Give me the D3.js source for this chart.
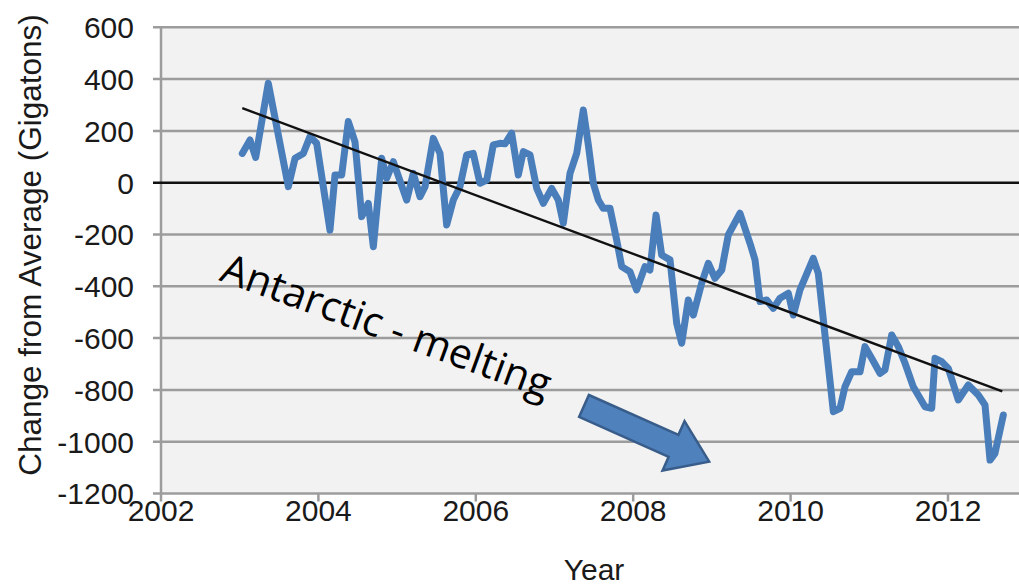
<!DOCTYPE html>
<html><head><meta charset="utf-8">
<script src="https://cdn.jsdelivr.net/npm/d3@7"></script>
<style>body{margin:0;background:#fff;overflow:hidden}</style>
</head><body><svg id="c" width="1019" height="587"></svg>
<script>
// Data (decimal years, change in gigatons)
const years = [2003.033,2003.131,2003.203,2003.363,2003.618,2003.703,2003.808,2003.893,2003.978,2004.147,
 2004.211,2004.296,2004.380,2004.465,2004.550,2004.634,2004.698,2004.804,2004.868,2004.952,
 2005.122,2005.206,2005.291,2005.355,2005.460,2005.545,2005.630,2005.714,2005.799,2005.884,
 2005.968,2006.053,2006.139,2006.222,2006.307,2006.371,2006.456,2006.540,2006.604,2006.689,
 2006.774,2006.858,2006.964,2007.048,2007.112,2007.197,2007.282,2007.366,2007.430,2007.493,
 2007.557,2007.620,2007.705,2007.790,2007.854,2007.959,2008.044,2008.150,2008.213,2008.290,
 2008.362,2008.468,2008.553,2008.616,2008.700,2008.764,2008.870,2008.954,2009.039,2009.125,
 2009.208,2009.357,2009.484,2009.548,2009.611,2009.696,2009.780,2009.865,2009.971,2010.034,
 2010.119,2010.288,2010.352,2010.543,2010.628,2010.691,2010.776,2010.882,2010.945,2011.030,
 2011.136,2011.199,2011.285,2011.369,2011.454,2011.559,2011.708,2011.793,2011.835,2011.920,
 2012.004,2012.131,2012.258,2012.385,2012.470,2012.534,2012.597,2012.703];
const values = [113,165,98,384,-15,94,113,178,152,-183,
 30,30,236,158,-131,-80,-247,94,17,81,
 -67,36,-54,-15,171,113,-163,-67,-15,107,
 113,-2,10,146,152,150,191,30,120,107,
 -22,-80,-22,-67,-157,36,113,281,146,-2,
 -67,-99,-99,-221,-324,-344,-414,-324,-337,-125,
 -279,-298,-543,-620,-453,-511,-388,-311,-369,-337,
 -202,-118,-234,-298,-459,-453,-485,-446,-427,-511,
 -414,-292,-350,-884,-871,-788,-730,-730,-633,-678,
 -736,-723,-588,-633,-697,-788,-865,-871,-678,-691,
 -717,-839,-781,-820,-858,-1071,-1045,-897];
const trendYears = [2003.033, 2012.69];
const trendValues = [288, -806];
const yTicks = [600,400,200,0,-200,-400,-600,-800,-1000,-1200];
const xTicks = [2002,2004,2006,2008,2010,2012];
const yTitle = "Change from Average (Gigatons)";
const xTitle = "Year";
const noteText = "Antarctic - melting";
const noteAt = [2002.728, -376];
const arrowAt = [2007.375, -862];

const svg = d3.select("#c");
const x = d3.scaleLinear().domain([2002, 2013]).range([161, 161 + 11 * 78.7]);
const y = d3.scaleLinear().domain([-1200, 600]).range([493.5, 27.3]);
const W = 1019;
const gridColor = "#9c9c9c";

// plot background
svg.append("rect").attr("x", x(2002)).attr("y", y(600))
  .attr("width", W - x(2002)).attr("height", y(-1200) - y(600)).attr("fill", "#f2f2f2");

// grid lines (extend left as ticks)
svg.append("g").selectAll("line").data(yTicks.filter(d => d !== 0)).join("line")
  .attr("x1", x(2002) - 8).attr("x2", W)
  .attr("y1", d => y(d)).attr("y2", d => y(d))
  .attr("stroke", gridColor).attr("stroke-width", 2.5);

// x ticks
svg.append("g").selectAll("line").data(xTicks).join("line")
  .attr("x1", d => x(d)).attr("x2", d => x(d))
  .attr("y1", y(-1200)).attr("y2", y(-1200) + 8)
  .attr("stroke", gridColor).attr("stroke-width", 2.5);

// left axis line
svg.append("line").attr("x1", x(2002)).attr("x2", x(2002))
  .attr("y1", y(600)).attr("y2", y(-1200))
  .attr("stroke", gridColor).attr("stroke-width", 2.5);

// zero line
svg.append("line").attr("x1", x(2002) - 8).attr("x2", W)
  .attr("y1", y(0)).attr("y2", y(0)).attr("stroke", "#111").attr("stroke-width", 2.4);

// y tick labels
svg.append("g").selectAll("text").data(yTicks).join("text")
  .attr("x", 134).attr("y", d => y(d)).attr("dy", "0.36em")
  .attr("text-anchor", "end").attr("font-family", "Liberation Sans, Arial, sans-serif")
  .attr("font-size", 30).attr("fill", "#1a1a1a").text(d => d);

// x tick labels
svg.append("g").selectAll("text").data(xTicks).join("text")
  .attr("x", d => x(d)).attr("y", 521)
  .attr("text-anchor", "middle").attr("font-family", "Liberation Sans, Arial, sans-serif")
  .attr("font-size", 30).attr("fill", "#1a1a1a").text(d => d);

// axis titles
svg.append("text").attr("x", (x(2002) + W) / 2 + 4).attr("y", 580)
  .attr("text-anchor", "middle").attr("font-family", "Liberation Sans, Arial, sans-serif")
  .attr("font-size", 30).attr("fill", "#1a1a1a").text(xTitle);
svg.append("text").attr("transform", "translate(41,245) rotate(-90)")
  .attr("text-anchor", "middle").attr("font-family", "Liberation Sans, Arial, sans-serif")
  .attr("font-size", 31.5).attr("fill", "#1a1a1a").text(yTitle);

// data line
const pts = years.map((d, i) => [d, values[i]]);
svg.append("path").datum(pts)
  .attr("d", d3.line().x(d => x(d[0])).y(d => y(d[1])))
  .attr("fill", "none").attr("stroke", "#4a7ebb").attr("stroke-width", 7)
  .attr("stroke-linejoin", "round").attr("stroke-linecap", "round");

// trend line
const tp = trendYears.map((d, i) => [d, trendValues[i]]);
svg.append("path").datum(tp)
  .attr("d", d3.line().x(d => x(d[0])).y(d => y(d[1])))
  .attr("fill", "none").attr("stroke", "#111").attr("stroke-width", 2.4);

// annotation text
svg.append("text")
  .attr("transform", `translate(${x(noteAt[0])},${y(noteAt[1])}) rotate(20)`)
  .attr("font-family", "Open Sans, sans-serif").attr("font-size", 41)
  .attr("fill", "#000").text(noteText);

// block arrow
svg.append("path")
  .attr("transform", `translate(${x(arrowAt[0])},${y(arrowAt[1])}) rotate(24)`)
  .attr("d", "M0,-12 L98,-12 L98,-27 L137,0 L98,27 L98,12 L0,12 Z")
  .attr("fill", "#4f81bd").attr("stroke", "#385d8a").attr("stroke-width", 2.5)
  .attr("stroke-linejoin", "miter");
</script>
</body></html>
